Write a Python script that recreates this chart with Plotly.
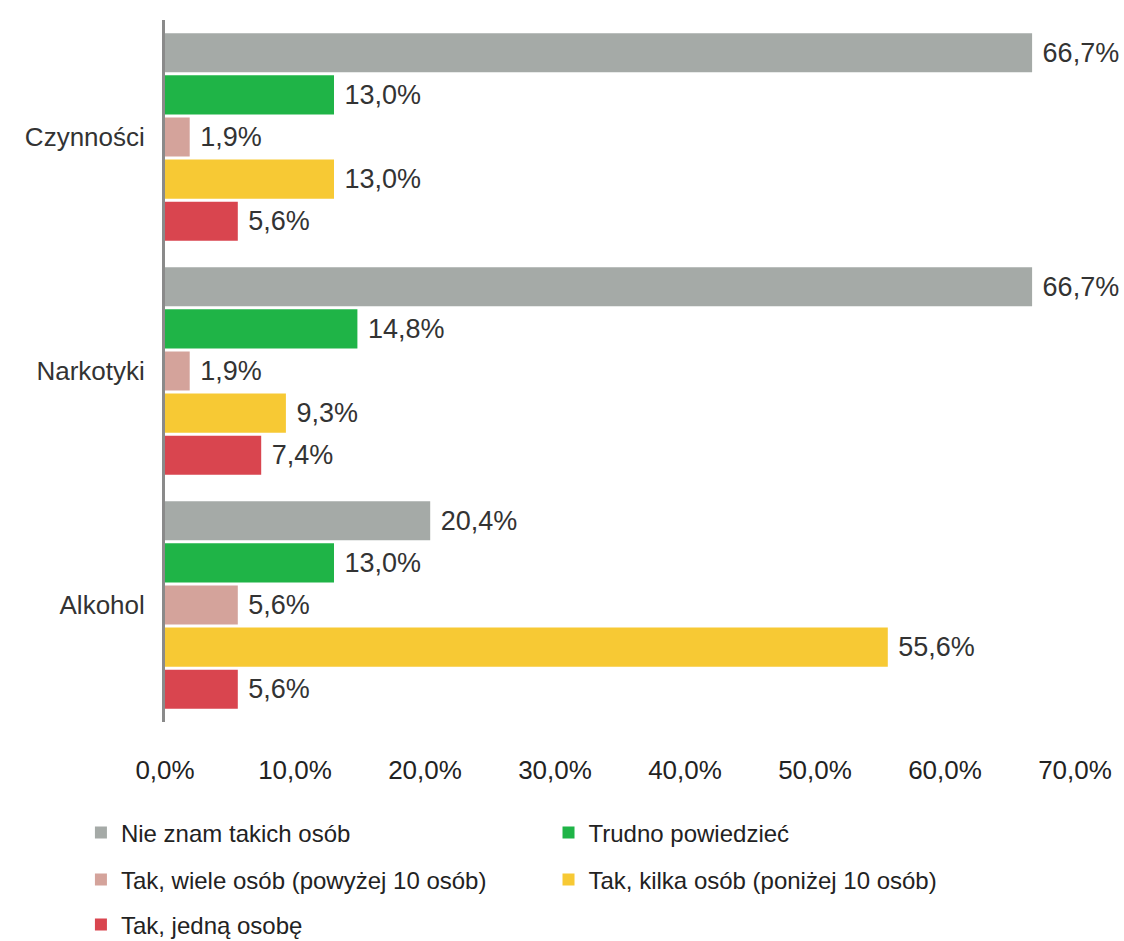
import plotly.graph_objects as go

categories = ["Czynności", "Narkotyki", "Alkohol"]
series_names = [
    "Nie znam takich osób",
    "Trudno powiedzieć",
    "Tak, wiele osób (powyżej 10 osób)",
    "Tak, kilka osób (poniżej 10 osób)",
    "Tak, jedną osobę",
]
nie_znam = [66.7, 66.7, 20.4]
trudno = [13.0, 14.8, 13.0]
wiele = [1.9, 1.9, 5.6]
kilka = [13.0, 9.3, 55.6]
jedna = [5.6, 7.4, 5.6]
tick_values = [0, 10, 20, 30, 40, 50, 60, 70]
tick_labels = ["0,0%", "10,0%", "20,0%", "30,0%", "40,0%", "50,0%", "60,0%", "70,0%"]

series_values = [nie_znam, trudno, wiele, kilka, jedna]
colors = ["#A5AAA7", "#1FB447", "#D4A39B", "#F7C934", "#D9454F"]
legend_ids = ["legend", "legend2", "legend3", "legend4", "legend5"]

FONT = "Liberation Sans, Arial"
NB = "\u00a0"

fig = go.Figure()
for name, vals, col, lg in zip(series_names, series_values, colors, legend_ids):
    fig.add_trace(go.Bar(
        y=categories, x=vals, name=name, orientation="h",
        marker=dict(color=col, line=dict(width=0)),
        text=vals, texttemplate=NB + "%{x:.1f}%", textposition="outside",
        textfont=dict(size=27, color="#333333", family=FONT),
        cliponaxis=False, legend=lg, showlegend=True,
    ))

leg_common = dict(orientation="h",
                  font=dict(size=24, color="#222222", family=FONT),
                  xref="container", yref="container",
                  xanchor="left", yanchor="middle",
                  bgcolor="rgba(0,0,0,0)", visible=True)

col1_x, col2_x = 0.072, 0.488
row_y = [0.1148, 0.0648, 0.0170]

fig.update_layout(
    width=1124, height=941, showlegend=True,
    paper_bgcolor="white", plot_bgcolor="white",
    margin=dict(l=165, r=49, t=20, b=219),
    barmode="group", bargap=0.1, bargroupgap=0.07,
    separators=",.",
    font=dict(family=FONT, size=24, color="#333333"),
    xaxis=dict(range=[0, 70], tickvals=tick_values, ticktext=tick_labels,
               showgrid=False, zeroline=False, showline=False,
               tickfont=dict(size=26, color="#222222"), ticks="",
               ticklabelstandoff=30),
    yaxis=dict(autorange="reversed", showgrid=False, showline=True,
               linecolor="#8a8a8a", linewidth=3, ticks="", ticklabelstandoff=12,
               tickfont=dict(size=26, color="#333333")),
    legend=dict(x=col1_x, y=row_y[0], **leg_common),
    legend2=dict(x=col2_x, y=row_y[0], **leg_common),
    legend3=dict(x=col1_x, y=row_y[1], **leg_common),
    legend4=dict(x=col2_x, y=row_y[1], **leg_common),
    legend5=dict(x=col1_x, y=row_y[2], **leg_common),
)

fig.write_html("out.html", config={"displayModeBar": False},
               post_script="document.body.style.margin='0';")
